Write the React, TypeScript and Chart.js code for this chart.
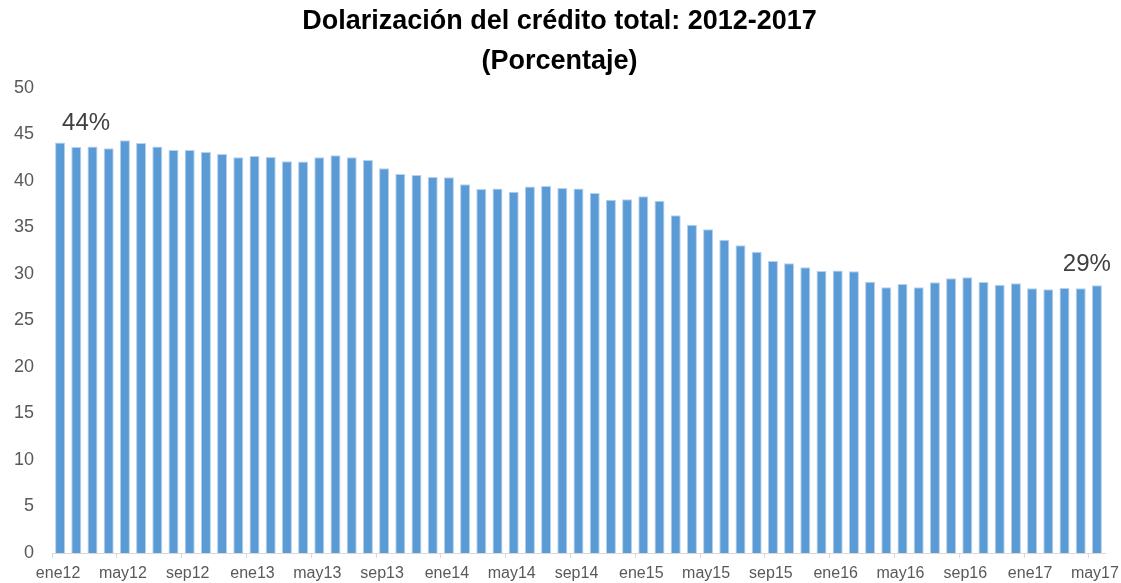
import React, { useEffect, useRef } from "react";
import { Chart, registerables } from "chart.js";

Chart.register(...registerables);

const titleLines = ["Dolarización del crédito total: 2012-2017", "(Porcentaje)"];

const categories = [
  "ene12", "feb12", "mar12", "abr12", "may12", "jun12", "jul12", "ago12", "sep12", "oct12", "nov12", "dic12",
  "ene13", "feb13", "mar13", "abr13", "may13", "jun13", "jul13", "ago13", "sep13", "oct13", "nov13", "dic13",
  "ene14", "feb14", "mar14", "abr14", "may14", "jun14", "jul14", "ago14", "sep14", "oct14", "nov14", "dic14",
  "ene15", "feb15", "mar15", "abr15", "may15", "jun15", "jul15", "ago15", "sep15", "oct15", "nov15", "dic15",
  "ene16", "feb16", "mar16", "abr16", "may16", "jun16", "jul16", "ago16", "sep16", "oct16", "nov16", "dic16",
  "ene17", "feb17", "mar17", "abr17", "may17",
];

const values2012 = [44.12, 43.66, 43.69, 43.51, 44.37, 44.09, 43.69, 43.33, 43.33, 43.12, 42.9, 42.54];
const values2013 = [42.69, 42.58, 42.11, 42.08, 42.54, 42.76, 42.54, 42.26, 41.36, 40.75, 40.65, 40.43];
const values2014 = [40.39, 39.64, 39.14, 39.18, 38.85, 39.39, 39.46, 39.25, 39.18, 38.71, 37.99, 38.03];
const values2015 = [38.35, 37.88, 36.31, 35.3, 34.8, 33.69, 33.08, 32.4, 31.4, 31.15, 30.72, 30.32];
const values2016 = [30.36, 30.29, 29.17, 28.57, 28.92, 28.57, 29.1, 29.53, 29.64, 29.14, 28.85, 29.0];
const values2017 = [28.46, 28.35, 28.49, 28.46, 28.78];

const dolarizacion = [
  ...values2012, ...values2013, ...values2014, ...values2015, ...values2016, ...values2017,
];

const yTicks = [0, 5, 10, 15, 20, 25, 30, 35, 40, 45, 50];

const callouts = [
  { index: 0, text: "44%" },
  { index: 64, text: "29%" },
];

const FONT = "'Liberation Sans', Arial, sans-serif";

const calloutPlugin = {
  id: "callouts",
  afterDatasetsDraw(chart: any) {
    const { ctx, scales } = chart;
    const x = scales.x;
    const y = scales.y;
    ctx.save();
    ctx.font = `24px ${FONT}`;
    ctx.fillStyle = "#404040";
    ctx.textBaseline = "middle";
    callouts.forEach((c, k) => {
      const px = x.getPixelForValue(c.index);
      const py = y.getPixelForValue(dolarizacion[c.index]);
      if (k === 0) {
        ctx.textAlign = "left";
        ctx.fillText(c.text, px + 2, py - 19);
      } else {
        ctx.textAlign = "right";
        ctx.fillText(c.text, px + 14, py - 21);
      }
    });
    ctx.restore();
  },
};

export default function App() {
  const canvasRef = useRef<HTMLCanvasElement | null>(null);

  useEffect(() => {
    document.body.style.margin = "0";
    const canvas = canvasRef.current;
    if (!canvas) return;
    const chart = new Chart(canvas, {
      type: "bar",
      data: {
        labels: categories,
        datasets: [
          {
            label: "Dolarización",
            data: dolarizacion,
            backgroundColor: "#5B9BD5",
            borderColor: "#b7d1ee",
            borderWidth: { top: 1, left: 1, right: 1, bottom: 0 },
            barPercentage: 0.62,
            categoryPercentage: 1,
          },
        ],
      },
      options: {
        animation: false,
        responsive: false,
        maintainAspectRatio: false,
        layout: { padding: { left: 14, right: 16, top: 0, bottom: 1 } },
        plugins: {
          legend: { display: false },
          tooltip: { enabled: false },
          title: {
            display: true,
            text: titleLines,
            color: "#000000",
            font: { family: FONT, size: 27, weight: "bold", lineHeight: 1.48 },
            padding: { top: 2, bottom: 6 },
          },
        },
        scales: {
          x: {
            offset: true,
            afterFit: (axis: any) => {
              axis.height = 29;
              axis.paddingLeft = 0;
              axis.paddingRight = 0;
            },
            grid: {
              offset: true,
              drawOnChartArea: false,
              drawTicks: true,
              tickLength: 5,
              color: (ctx: any) => (ctx.index % 4 === 0 && ctx.index < categories.length ? "#d9d9d9" : "rgba(0,0,0,0)"),
            },
            border: { display: true, color: "#d9d9d9", width: 1 },
            ticks: {
              autoSkip: false,
              maxRotation: 0,
              minRotation: 0,
              padding: 6,
              labelOffset: -2,
              color: "#595959",
              font: { family: FONT, size: 16 },
              callback: (_v: any, i: number) => (i % 4 === 0 ? categories[i] : ""),
            },
          },
          y: {
            min: 0,
            max: 50,
            afterBuildTicks: (axis: any) => {
              axis.ticks = yTicks.map((v) => ({ value: v }));
            },
            afterFit: (axis: any) => {
              axis.width = 38;
            },
            grid: { display: false, drawTicks: false },
            border: { display: false },
            ticks: {
              padding: 18,
              color: "#595959",
              font: { family: FONT, size: 18 },
            },
          },
        },
      },
      plugins: [calloutPlugin],
    });
    return () => chart.destroy();
  }, []);

  return (
    <div style={{ width: 1121, height: 583, background: "#ffffff" }}>
      <canvas ref={canvasRef} width={1121} height={583} style={{ display: "block" }} />
    </div>
  );
}
